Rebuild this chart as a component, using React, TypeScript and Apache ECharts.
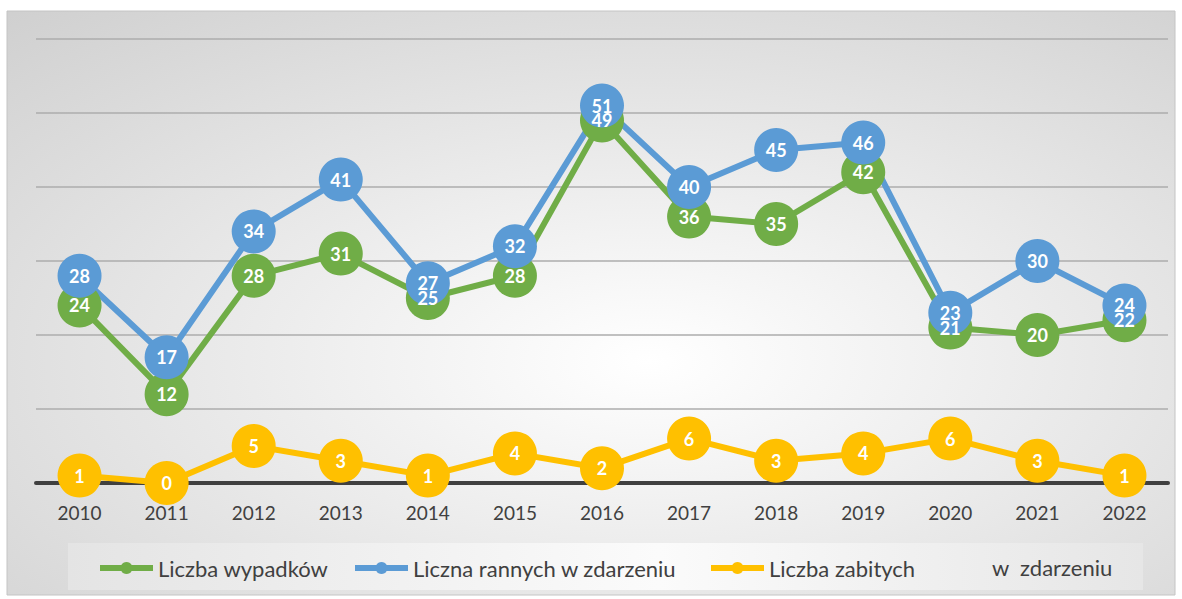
import React, { useEffect, useRef } from "react";
import * as echarts from "echarts";

const years = ["2010","2011","2012","2013","2014","2015","2016","2017","2018","2019","2020","2021","2022"];
const wypadki = [24, 12, 28, 31, 25, 28, 49, 36, 35, 42, 21, 20, 22];
const ranni = [28, 17, 34, 41, 27, 32, 51, 40, 45, 46, 23, 30, 24];
const zabici = [1, 0, 5, 3, 1, 4, 2, 6, 3, 4, 6, 3, 1];
const seriesNames = ["Liczba wypadków", "Liczna rannych w zdarzeniu", "Liczba zabitych"];
const extraLegendText = "w  zdarzeniu";
const colors = ["#70ad47", "#5b9bd5", "#ffc000"];

const FONT = "Lato, 'Open Sans', sans-serif";

export default function App() {
  const ref = useRef<HTMLDivElement>(null);
  useEffect(() => {
    if (!ref.current) return;
    const chart = echarts.init(ref.current, null, { renderer: "svg" });
    const mk = (i: number, data: number[]) => ({
      name: seriesNames[i],
      type: "line",
      data,
      symbol: "circle",
      symbolSize: 44,
      color: colors[i],
      lineStyle: { width: 6, color: colors[i] },
      itemStyle: { color: colors[i] },
      label: {
        show: true,
        position: "inside",
        color: "#ffffff",
        fontFamily: FONT,
        fontWeight: "bold",
        fontSize: 18,
      },
      emphasis: { disabled: true },
    });
    const legendBase = {
      top: 557,
      itemWidth: 53,
      itemHeight: 15,
      padding: 0,
      lineStyle: { width: 6 },
      textStyle: { color: "#404040", fontFamily: FONT, fontSize: 22 },
      selectedMode: false,
    };
    chart.setOption({
      animation: false,
      graphic: [
        {
          type: "rect",
          z: -100,
          silent: true,
          shape: { x: 7, y: 11, width: 1168, height: 584 },
          style: {
            fill: new echarts.graphic.RadialGradient(0.55, 0.6, 1.15, [
              { offset: 0, color: "#ffffff" },
              { offset: 1, color: "#bcbcbc" },
            ]),
            stroke: "#c4c4c4",
            lineWidth: 1,
          },
        },
        {
          type: "rect",
          z: -90,
          silent: true,
          shape: { x: 68, y: 543, width: 1075, height: 47 },
          style: {
            fill: new echarts.graphic.LinearGradient(0, 0, 1, 0, [
              { offset: 0, color: "#e4e4e4" },
              { offset: 0.55, color: "#fbfbfb" },
              { offset: 1, color: "#e6e6e6" },
            ]),
          },
        },
        {
          type: "text",
          left: 992,
          top: 556,
          style: { text: extraLegendText, fill: "#404040", font: `22px ${FONT}` },
        },
      ],
      grid: { left: 36, right: 14, top: 39, bottom: 116, containLabel: false },
      legend: [
        { ...legendBase, left: 97, data: [seriesNames[0]] },
        { ...legendBase, left: 352, data: [seriesNames[1]] },
        { ...legendBase, left: 708, data: [seriesNames[2]] },
      ],
      xAxis: {
        type: "category",
        data: years,
        boundaryGap: true,
        axisLine: { show: true, lineStyle: { color: "#404040", width: 4 } },
        axisTick: { show: false },
        axisLabel: { color: "#404040", fontFamily: FONT, fontSize: 19, margin: 20 },
        z: 1,
      },
      yAxis: {
        type: "value",
        min: 0,
        max: 60,
        interval: 10,
        axisLabel: { show: false },
        axisLine: { show: false },
        axisTick: { show: false },
        splitLine: { show: true, lineStyle: { color: "#acacac", width: 1.5 } },
      },
      series: [mk(0, wypadki), mk(1, ranni), mk(2, zabici)],
    });
    return () => chart.dispose();
  }, []);
  return (
    <div
      ref={ref}
      style={{ position: "absolute", left: 0, top: 0, width: 1182, height: 599, background: "#ffffff" }}
    />
  );
}
